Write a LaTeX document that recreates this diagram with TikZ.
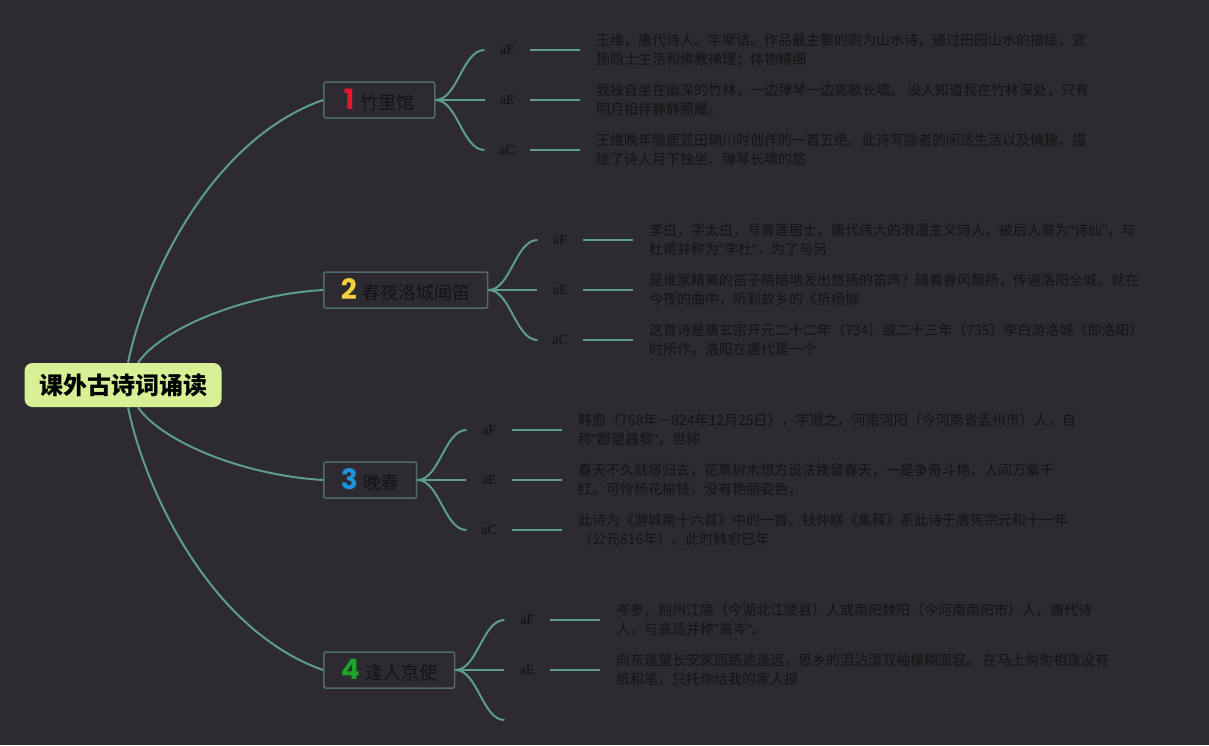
\documentclass[tikz,border=0pt]{standalone}
\usepackage{fontspec}
\setmainfont{Noto Sans CJK SC}
\newfontfamily\numfont{Poppins}
\newfontfamily\labfont{Liberation Serif}
\newfontfamily\quotefont{Noto Sans}
\usetikzlibrary{positioning}
\definecolor{bgcol}{HTML}{2D2A31}
\definecolor{linecol}{HTML}{5F9C90}
\definecolor{boxcol}{HTML}{4F6B6A}
\definecolor{rootcol}{HTML}{D8F095}
\definecolor{txtcol}{HTML}{141414}
\definecolor{labcol}{HTML}{101010}
\definecolor{numred}{HTML}{E3182D}
\definecolor{numyellow}{HTML}{F4D03F}
\definecolor{numblue}{HTML}{1E93DD}
\definecolor{numgreen}{HTML}{1DA329}
\newcommand{\topicnum}[2]{{\numfont\bfseries\fontsize{28}{28}\selectfont\color{#1}#2}\hspace{6pt}}
\newcommand{\openq}{{\quotefont “}}
\newcommand{\closeq}{{\quotefont ”}}

\begin{document}
\begin{tikzpicture}[x=1pt,y=-1pt,
    branch/.style={draw=linecol,line width=2pt},
    root/.style={fill=rootcol,rounded corners=8pt,minimum width=197pt,minimum height=44pt,inner sep=0pt,text=black,font=\bfseries\fontsize{24}{27}\selectfont},
    topic/.style={draw=boxcol,line width=1.5pt,fill=bgcol,rounded corners=2pt,minimum height=36pt,inner xsep=17pt,inner ysep=0pt,anchor=west,text=txtcol,font=\fontsize{18}{22}\selectfont},
    lab/.style={minimum width=45pt,inner sep=0pt,anchor=west,text=labcol,font=\labfont\fontsize{14}{16}\selectfont},
    note/.style={anchor=west,inner xsep=16pt,inner ysep=0pt,align=left,text=txtcol,font=\fontsize{14}{19}\selectfont}]

\fill[bgcol] (0,0) rectangle (1209,745);
\useasboundingbox (0,0) rectangle (1209,745);

% centre
\node[root] (root) at (123,385) {课外古诗词诵读};

% topics
\node[topic,minimum width=111pt] (t1) at (323,100) {\topicnum{numred}{1}竹里馆};
\node[topic] (t2) at (323,290) {\topicnum{numyellow}{2}春夜洛城闻笛};
\node[topic] (t3) at (323,480) {\topicnum{numblue}{3}晚春};
\node[topic,minimum width=129pt] (t4) at (323,670) {\topicnum{numgreen}{4}逢人京使};

\draw[branch] ([xshift=5pt]root.north) .. controls (145,280) and (210,140) .. (t1.west);
\draw[branch] ([xshift=15pt]root.north) .. controls (160,330) and (240,295) .. (t2.west);
\draw[branch] ([xshift=15pt]root.south) .. controls (160,440) and (240,475) .. (t3.west);
\draw[branch] ([xshift=5pt]root.south) .. controls (145,490) and (210,630) .. (t4.west);

% 竹里馆
\node[lab] (t1f) at ([shift={(49,-50)}]t1.east) {aF};
\node[lab] (t1e) at ([shift={(49,0)}]t1.east) {aE};
\node[lab] (t1c) at ([shift={(49,50)}]t1.east) {aC};
\node[note] (n1f) at ([xshift=50pt]t1f.east) {王维，唐代诗人。字摩诘。作品最主要的则为山水诗，通过田园山水的描绘，宣\\扬隐士生活和佛教禅理；体物精细};
\node[note] (n1e) at ([xshift=50pt]t1e.east) {我独自坐在幽深的竹林，一边弹琴一边高歌长啸。 没人知道我在竹林深处，只有\\明月相伴静静照耀。};
\node[note] (n1c) at ([xshift=50pt]t1c.east) {王维晚年隐居蓝田辋川时创作的一首五绝。此诗写隐者的闲适生活以及情趣，描\\绘了诗人月下独坐、弹琴长啸的悠};
\foreach \s in {f,e,c} {
  \draw[branch] (t1.east) .. controls +(22,0) and +(-22,0) .. (t1\s.west);
  \draw[branch] (t1\s.east) -- (n1\s.west);
}

% 春夜洛城闻笛
\node[lab] (t2f) at ([shift={(49,-50)}]t2.east) {aF};
\node[lab] (t2e) at ([shift={(49,0)}]t2.east) {aE};
\node[lab] (t2c) at ([shift={(49,50)}]t2.east) {aC};
\node[note] (n2f) at ([xshift=50pt]t2f.east) {李白，字太白，号青莲居士，唐代伟大的浪漫主义诗人，被后人誉为\openq 诗仙\closeq，与\\杜甫并称为\openq 李杜\closeq，为了与另};
\node[note] (n2e) at ([xshift=50pt]t2e.east) {是谁家精美的笛子暗暗地发出悠扬的笛声？随着春风飘扬，传遍洛阳全城。就在\\今夜的曲中，听到故乡的《折杨柳};
\node[note] (n2c) at ([xshift=50pt]t2c.east) {这首诗是唐玄宗开元二十二年（734）或二十三年（735）李白游洛城（即洛阳）\\时所作。洛阳在唐代是一个};
\foreach \s in {f,e,c} {
  \draw[branch] (t2.east) .. controls +(22,0) and +(-22,0) .. (t2\s.west);
  \draw[branch] (t2\s.east) -- (n2\s.west);
}

% 晚春
\node[lab] (t3f) at ([shift={(49,-50)}]t3.east) {aF};
\node[lab] (t3e) at ([shift={(49,0)}]t3.east) {aE};
\node[lab] (t3c) at ([shift={(49,50)}]t3.east) {aC};
\node[note] (n3f) at ([xshift=50pt]t3f.east) {韩愈（768年－824年12月25日），字退之，河南河阳（今河南省孟州市）人，自\\称\openq 郡望昌黎\closeq，世称};
\node[note] (n3e) at ([xshift=50pt]t3e.east) {春天不久就将归去，花草树木想方设法挽留春天，一是争奇斗艳，人间万紫千\\红。可怜杨花榆钱，没有艳丽姿色，};
\node[note] (n3c) at ([xshift=50pt]t3c.east) {此诗为《游城南十六首》中的一首。钱仲联《集释》系此诗于唐宪宗元和十一年\\（公元816年）。此时韩愈已年};
\foreach \s in {f,e,c} {
  \draw[branch] (t3.east) .. controls +(22,0) and +(-22,0) .. (t3\s.west);
  \draw[branch] (t3\s.east) -- (n3\s.west);
}

% 逢人京使
\node[lab] (t4f) at ([shift={(49,-50)}]t4.east) {aF};
\node[lab] (t4e) at ([shift={(49,0)}]t4.east) {aE};
\coordinate (t4c) at ([shift={(49,50)}]t4.east);
\node[note] (n4f) at ([xshift=50pt]t4f.east) {岑参，荆州江陵（今湖北江陵县）人或南阳棘阳（今河南南阳市）人，唐代诗\\人，与高适并称\openq 高岑\closeq。};
\node[note] (n4e) at ([xshift=50pt]t4e.east) {向东遥望长安家园路途遥远，思乡的泪沾湿双袖模糊面容。 在马上匆匆相逢没有\\纸和笔，只托你给我的家人报};
\foreach \s in {f,e} {
  \draw[branch] (t4.east) .. controls +(22,0) and +(-22,0) .. (t4\s.west);
  \draw[branch] (t4\s.east) -- (n4\s.west);
}
\draw[branch] (t4.east) .. controls +(22,0) and +(-22,0) .. (t4c);

\end{tikzpicture}
\end{document}
